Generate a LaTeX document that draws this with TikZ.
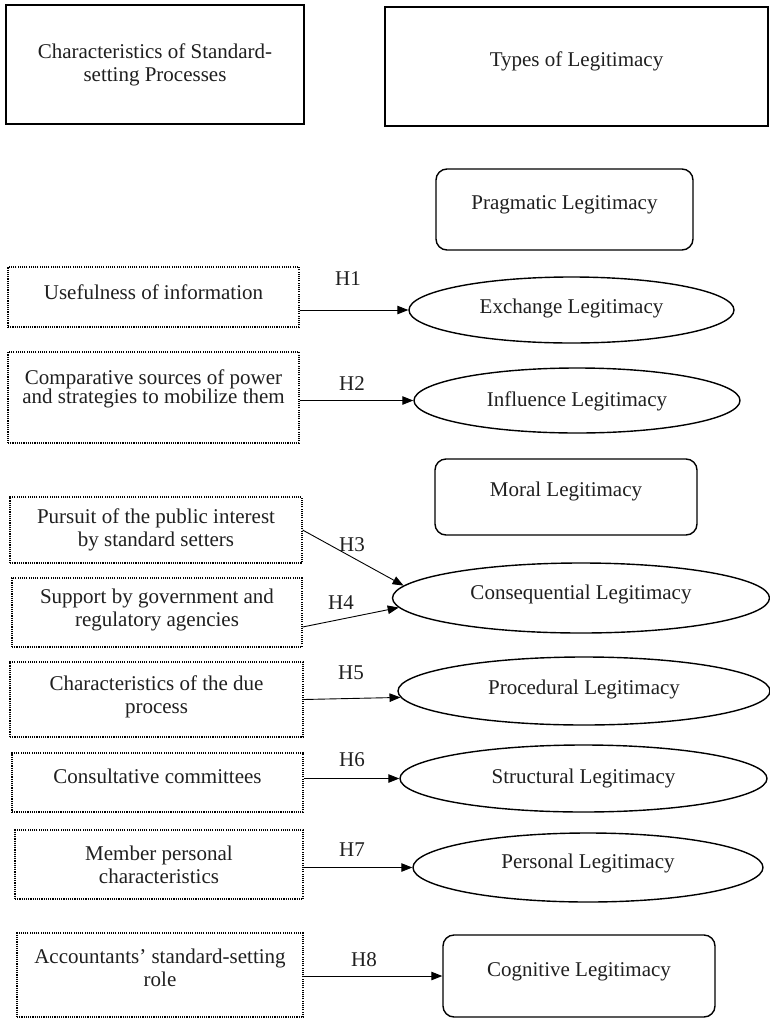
\documentclass[tikz,border=0pt]{standalone}
\usepackage{fontspec}
\setmainfont{Liberation Serif}
\usetikzlibrary{arrows.meta,shapes.geometric}
\begin{document}
\begin{tikzpicture}[x=1pt,y=-1pt,
  every node/.style={font=\fontsize{21}{23}\selectfont, align=center, inner sep=2pt, text=black!88},
  solidbox/.style={draw, line width=1.4pt, rectangle},
  roundbox/.style={draw, line width=1.4pt, rectangle, rounded corners=11pt},
  oval/.style={draw, ellipse, line width=1.4pt, inner sep=0pt},
  dotbox/.style={draw, line width=1.2pt, dash pattern=on 1.1pt off 1.1pt},
  arr/.style={line width=0.9pt, -{Triangle[length=11pt,width=8.5pt]}},
  lift/.style={text height=14pt, text depth=#1},
  mlift/.style={text height=37pt, text depth=#1},
  hlab/.style={inner sep=1pt},
]
\useasboundingbox (0,0) rectangle (770,1018);

% header boxes
\node[solidbox, minimum width=298pt, minimum height=119pt] (chars) at (155,64.5) {Characteristics of Standard-\\setting Processes};
\node[solidbox, minimum width=383pt, minimum height=119pt, lift=15pt] (types) at (576.5,66.5) {Types of Legitimacy};

% right column
\node[roundbox, minimum width=257pt, minimum height=81pt, lift=15pt] (prag) at (564.5,209.5) {Pragmatic Legitimacy};
\node[oval, minimum width=325pt, minimum height=66pt, lift=8pt] (exch) at (571.5,310) {Exchange Legitimacy};
\node[oval, minimum width=326pt, minimum height=65pt, lift=3pt] (infl) at (577,400.5) {Influence Legitimacy};
\node[roundbox, minimum width=262pt, minimum height=76pt, lift=15pt] (moral) at (566,497) {Moral Legitimacy};
\node[oval, minimum width=377pt, minimum height=70pt, lift=12pt] (conseq) at (581,598) {Consequential Legitimacy};
\node[oval, minimum width=372pt, minimum height=68pt, lift=8pt] (proc) at (584,691) {Procedural Legitimacy};
\node[oval, minimum width=367pt, minimum height=67pt, lift=5pt] (struct) at (583.5,778.5) {Structural Legitimacy};
\node[oval, minimum width=350pt, minimum height=69pt, lift=13pt] (pers) at (588,867.5) {Personal Legitimacy};
\node[roundbox, minimum width=272pt, minimum height=82pt, lift=14pt] (cogn) at (579,976) {Cognitive Legitimacy};

% left column
\node[dotbox, minimum width=291pt, minimum height=60pt, lift=10pt] (useful) at (153.5,297) {Usefulness of information};
\node[dotbox, minimum width=291pt, minimum height=91pt, text height=33pt, text depth=22pt] (compar) at (153.5,397.5) {Comparative sources of power\\[-4pt]and strategies to mobilize them};
\node[dotbox, minimum width=292pt, minimum height=66pt] (pursuit) at (156,530) {Pursuit of the public interest\\by standard setters};
\node[dotbox, minimum width=290pt, minimum height=69pt, mlift=9pt] (support) at (157,612.5) {Support by government and\\regulatory agencies};
\node[dotbox, minimum width=293pt, minimum height=75pt, mlift=10pt] (dueproc) at (156.5,699.5) {Characteristics of the due\\process};
\node[dotbox, minimum width=291pt, minimum height=59pt, lift=13pt] (consult) at (157.5,782.5) {Consultative committees};
\node[dotbox, minimum width=288pt, minimum height=69pt] (member) at (159,864.5) {Member personal\\characteristics};
\node[dotbox, minimum width=286pt, minimum height=84pt, mlift=15pt] (account) at (160,975) {Accountants' standard-setting\\role};

% connectors
\draw[arr] (useful.east |- exch.west) -- (exch.west);
\draw[arr] (compar.east |- infl.west) -- (infl.west);
\draw[arr] (pursuit.east) -- (conseq.176);
\draw[arr] ([yshift=-14.5pt]support.east) -- (conseq.183);
\draw[arr] (dueproc.east) -- (proc.182);
\draw[arr] (consult.east |- struct.west) -- (struct.west);
\draw[arr] (member.east |- pers.west) -- (pers.west);
\draw[arr] (account.east |- cogn.west) -- (cogn.west);

% hypothesis labels
\node[hlab] (h1) at (348,279) {H1};
\node[hlab] (h2) at (352,384) {H2};
\node[hlab] (h3) at (352,545) {H3};
\node[hlab] (h4) at (341,603) {H4};
\node[hlab] (h5) at (351,673) {H5};
\node[hlab] (h6) at (352,760) {H6};
\node[hlab] (h7) at (352,850) {H7};
\node[hlab] (h8) at (364,960) {H8};
\end{tikzpicture}
\end{document}
